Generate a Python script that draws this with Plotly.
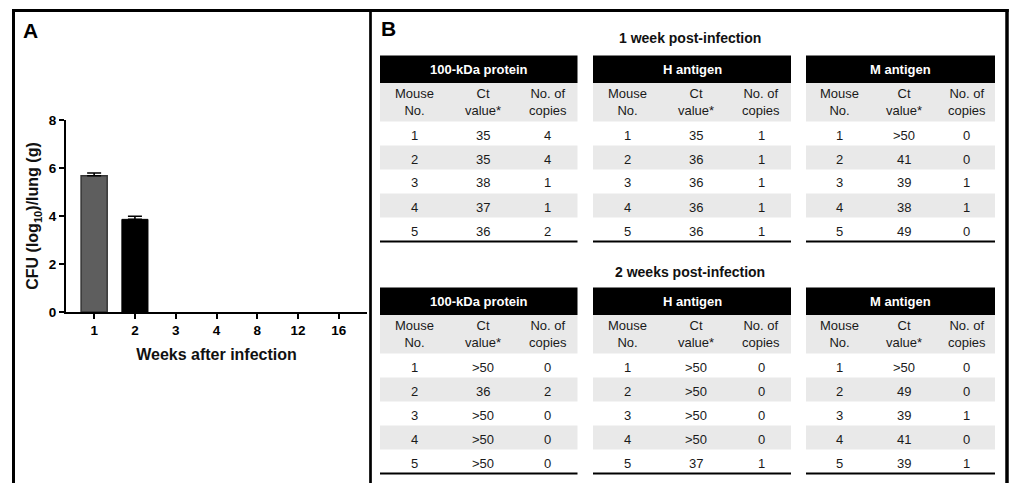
import plotly.graph_objects as go

# ---------------- data ----------------
weeks = ["1", "2", "3", "4", "8", "12", "16"]
cfu_log10 = [5.68, 3.86, 0, 0, 0, 0, 0]
cfu_err = [0.11, 0.13, 0, 0, 0, 0, 0]
bar_colors = ["#5e5e5e", "#000000", "rgba(0,0,0,0)", "rgba(0,0,0,0)",
              "rgba(0,0,0,0)", "rgba(0,0,0,0)", "rgba(0,0,0,0)"]

mouse_no = ["1", "2", "3", "4", "5"]
col_headers = ["Mouse<br>No.", "Ct<br>value*", "No. of<br>copies"]
targets = ["100-kDa protein", "H antigen", "M antigen"]
periods = ["1 week post-infection", "2 weeks post-infection"]

ct_week1 = {
    "100-kDa protein": ["35", "35", "38", "37", "36"],
    "H antigen": ["35", "36", "36", "36", "36"],
    "M antigen": [">50", "41", "39", "38", "49"],
}
copies_week1 = {
    "100-kDa protein": ["4", "4", "1", "1", "2"],
    "H antigen": ["1", "1", "1", "1", "1"],
    "M antigen": ["0", "0", "1", "1", "0"],
}
ct_week2 = {
    "100-kDa protein": [">50", "36", ">50", ">50", ">50"],
    "H antigen": [">50", ">50", ">50", ">50", "37"],
    "M antigen": [">50", "49", "39", "41", "39"],
}
copies_week2 = {
    "100-kDa protein": ["0", "2", "0", "0", "0"],
    "H antigen": ["0", "0", "0", "0", "1"],
    "M antigen": ["0", "0", "1", "0", "1"],
}

# ---------------- layout helpers ----------------
W, H = 1011, 483
FONT = "Arial, Liberation Sans, Helvetica, sans-serif"


def px(x):
    return x / W


def py(y):
    return 1 - y / H


shapes = []
annotations = []


def rect(x0, y0, x1, y1, fill, line_w=0, line_c=None):
    shapes.append(dict(type="rect", xref="paper", yref="paper",
                       x0=px(x0), x1=px(x1), y0=py(y1), y1=py(y0),
                       fillcolor=fill, line=dict(width=line_w, color=line_c or fill),
                       layer="below"))


def hline(x0, x1, y, w, color="black"):
    shapes.append(dict(type="line", xref="paper", yref="paper",
                       x0=px(x0), x1=px(x1), y0=py(y), y1=py(y),
                       line=dict(width=w, color=color)))


def vline(x, y0, y1, w, color="black"):
    shapes.append(dict(type="line", xref="paper", yref="paper",
                       x0=px(x), x1=px(x), y0=py(y0), y1=py(y1),
                       line=dict(width=w, color=color)))


def text(x, y, s, size, bold=False, color="#1a1a1a", angle=0):
    annotations.append(dict(xref="paper", yref="paper", x=px(x), y=py(y),
                            text=s, showarrow=False, xanchor="center", yanchor="middle",
                            textangle=angle,
                            font=dict(family=FONT, size=size, color=color,
                                      weight="bold" if bold else "normal")))


# ---------------- frame ----------------
hline(12, 1008.7, 10.5, 3)
vline(13.5, 9, 490, 3)
vline(1007, 9, 490, 3.5)
vline(370.5, 9, 490, 2.7)

text(30, 30, "A", 21, bold=True, color="black")
text(388, 29, "B", 21, bold=True, color="black")

# ---------------- tables (panel B) ----------------
table_x = [(380, 577.5), (593, 791), (806, 995)]
col_frac = [0.175, 0.52, 0.85]
GREY = "#e9e9e9"
HEAD_H, COLHEAD_H, ROW_H = 27.5, 38.5, 24

sections = [
    (periods[0], 38, 55.5, ct_week1, copies_week1),
    (periods[1], 272, 287.5, ct_week2, copies_week2),
]

for title, title_y, top, ct_map, cp_map in sections:
    text(690, title_y, title, 14, bold=True, color="#111111")
    for (x0, x1), tgt in zip(table_x, targets):
        w = x1 - x0
        # black title bar
        rect(x0, top, x1, top + HEAD_H, "black")
        text((x0 + x1) / 2, top + HEAD_H / 2, tgt, 13, bold=True, color="white")
        # grey column-header band
        y_ch = top + HEAD_H
        rect(x0, y_ch, x1, y_ch + COLHEAD_H, GREY)
        for f, lab in zip(col_frac, col_headers):
            text(x0 + f * w, y_ch + COLHEAD_H / 2, lab, 13)
        # body rows, alternating shading
        y_r = y_ch + COLHEAD_H
        for i, (m, ct, cp) in enumerate(zip(mouse_no, ct_map[tgt], cp_map[tgt])):
            ya = y_r + i * ROW_H
            if i % 2 == 1:
                rect(x0, ya, x1, ya + ROW_H, GREY)
            yc = ya + ROW_H / 2 + 1.5
            for f, val in zip(col_frac, (m, ct, cp)):
                text(x0 + f * w, yc, val, 13)
        hline(x0, x1, y_r + 5 * ROW_H, 2.2)

# ---------------- bar chart (panel A) ----------------
fig = go.Figure()
fig.add_trace(go.Bar(
    x=weeks, y=cfu_log10, width=0.64,
    marker=dict(color=bar_colors,
                line=dict(color=["#353535", "#000000"] + ["rgba(0,0,0,0)"] * 5,
                          width=[1.5, 1, 0, 0, 0, 0, 0])),
    showlegend=False, hoverinfo="x+y",
))

# upward SEM whiskers, only where CFU were recovered
detected = [i for i, v in enumerate(cfu_log10) if v > 0]
fig.add_trace(go.Scatter(
    x=[weeks[i] for i in detected],
    y=[cfu_log10[i] for i in detected],
    mode="markers", marker=dict(size=1, color="rgba(0,0,0,0)"),
    error_y=dict(type="data", symmetric=False,
                 array=[cfu_err[i] for i in detected],
                 arrayminus=[0] * len(detected),
                 color="black", thickness=1.6, width=7),
    showlegend=False, hoverinfo="skip",
))

fig.update_layout(
    width=W, height=H,
    margin=dict(l=0, r=0, t=0, b=0, autoexpand=False),
    paper_bgcolor="white", plot_bgcolor="white",
    font=dict(family=FONT, color="black"),
    shapes=shapes, annotations=annotations,
    showlegend=False,
    xaxis=dict(
        domain=[px(66), px(367)],
        type="category", range=[-0.69, 6.69],
        showline=True, linewidth=2, linecolor="black",
        ticks="outside", ticklen=5, tickwidth=2, tickcolor="black",
        tickfont=dict(size=13.5, weight="bold", family=FONT),
        showgrid=False, zeroline=False, automargin=False,
        title=dict(text="Weeks after infection", standoff=12,
                   font=dict(size=16, weight="bold", family=FONT, color="#111111")),
    ),
    yaxis=dict(
        domain=[py(312), py(120)],
        range=[0, 8], tickvals=[0, 2, 4, 6, 8],
        showline=True, linewidth=2, linecolor="black",
        ticks="outside", ticklen=5, tickwidth=2, tickcolor="black",
        tickfont=dict(size=13.5, weight="bold", family=FONT),
        showgrid=False, zeroline=False, automargin=False,
        title=dict(text="CFU (log<sub>10</sub>)/lung (g)", standoff=6,
                   font=dict(size=16, weight="bold", family=FONT, color="#111111")),
    ),
)

fig.write_html("out.html")
